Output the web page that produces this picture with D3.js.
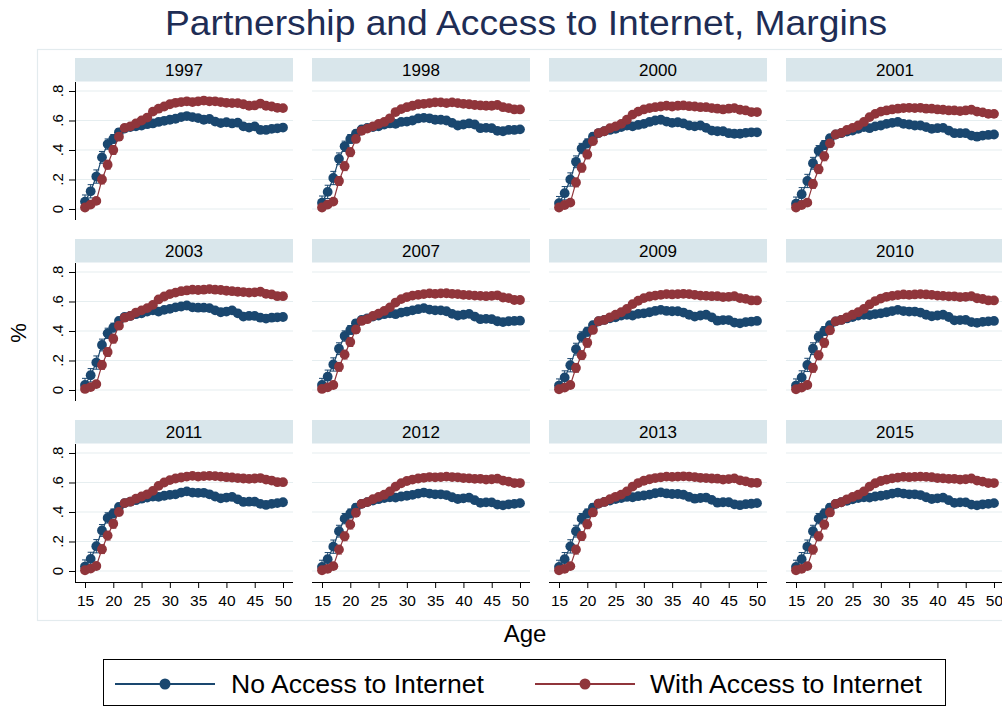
<!DOCTYPE html>
<html>
<head>
<meta charset="utf-8">
<script src="https://cdn.jsdelivr.net/npm/d3@7"></script>
<style>
  html, body { margin: 0; padding: 0; background: #fff; }
  svg { display: block; font-family: "Liberation Sans", Arial, Helvetica, sans-serif; }
</style>
</head>
<body>
<svg id="chart" width="1002" height="707"></svg>
<script>
// Ages on the x axis
const ages = [15,16,17,18,19,20,21,22,23,24,25,26,27,28,29,30,31,32,33,34,35,36,37,38,39,40,41,42,43,44,45,46,47,48,49,50];
const years = ["1997","1998","2000","2001","2003","2007","2009","2010","2011","2012","2013","2015"];
const xTicks = [15,20,25,30,35,40,45,50];
const yTicks = [0, 0.2, 0.4, 0.6, 0.8];
const yTickLabels = ["0", ".2", ".4", ".6", ".8"];
const seriesNames = ["No Access to Internet", "With Access to Internet"];

// Predicted share with a partner, by age: no internet access at home
const no1997 = [0.05,0.12,0.22,0.35,0.44,0.475,0.52,0.545,0.555,0.56,0.566,0.575,0.58,0.59,0.598,0.605,0.612,0.623,0.63,0.623,0.616,0.605,0.61,0.593,0.582,0.588,0.58,0.585,0.56,0.552,0.56,0.536,0.536,0.543,0.547,0.552];
const no1998 = [0.043,0.116,0.21,0.34,0.425,0.475,0.51,0.54,0.55,0.555,0.56,0.573,0.58,0.577,0.59,0.593,0.60,0.614,0.618,0.615,0.605,0.605,0.60,0.584,0.566,0.573,0.58,0.573,0.548,0.55,0.548,0.53,0.527,0.536,0.536,0.54];
const no2000 = [0.04,0.107,0.20,0.32,0.41,0.445,0.49,0.515,0.527,0.536,0.543,0.555,0.566,0.56,0.57,0.577,0.59,0.60,0.605,0.593,0.584,0.588,0.58,0.566,0.56,0.566,0.55,0.532,0.527,0.527,0.514,0.51,0.51,0.516,0.52,0.52];
const no2001 = [0.036,0.10,0.19,0.31,0.395,0.434,0.48,0.505,0.514,0.525,0.532,0.543,0.555,0.548,0.56,0.566,0.577,0.584,0.59,0.577,0.573,0.566,0.566,0.555,0.543,0.548,0.55,0.532,0.514,0.514,0.514,0.498,0.49,0.498,0.502,0.505];
const no2003 = [0.034,0.10,0.186,0.305,0.384,0.423,0.468,0.495,0.502,0.514,0.52,0.532,0.54,0.532,0.543,0.55,0.56,0.566,0.573,0.56,0.558,0.558,0.555,0.54,0.527,0.532,0.54,0.52,0.498,0.502,0.502,0.49,0.484,0.49,0.493,0.495];
const no2007 = [0.034,0.09,0.173,0.28,0.366,0.407,0.452,0.475,0.486,0.498,0.505,0.514,0.52,0.514,0.525,0.532,0.54,0.548,0.555,0.545,0.54,0.54,0.534,0.516,0.505,0.51,0.516,0.498,0.48,0.482,0.48,0.466,0.46,0.466,0.468,0.47];
const no2009 = [0.03,0.085,0.168,0.277,0.36,0.395,0.44,0.466,0.475,0.486,0.493,0.505,0.51,0.505,0.516,0.52,0.527,0.536,0.543,0.536,0.534,0.534,0.525,0.51,0.498,0.505,0.51,0.493,0.47,0.474,0.474,0.457,0.452,0.46,0.464,0.468];
const no2010 = [0.03,0.085,0.17,0.28,0.36,0.40,0.44,0.465,0.475,0.485,0.495,0.505,0.51,0.508,0.515,0.52,0.527,0.535,0.543,0.535,0.532,0.532,0.525,0.51,0.50,0.505,0.51,0.495,0.472,0.474,0.475,0.46,0.455,0.462,0.465,0.468];
const no2011 = [0.03,0.082,0.168,0.275,0.36,0.39,0.434,0.46,0.47,0.48,0.49,0.498,0.505,0.503,0.51,0.516,0.52,0.532,0.54,0.532,0.53,0.53,0.52,0.505,0.493,0.498,0.502,0.486,0.468,0.47,0.47,0.455,0.448,0.455,0.46,0.466];
const no2012 = [0.028,0.08,0.165,0.27,0.355,0.39,0.43,0.455,0.467,0.477,0.487,0.495,0.50,0.498,0.505,0.51,0.516,0.525,0.532,0.525,0.52,0.52,0.515,0.50,0.488,0.493,0.497,0.48,0.462,0.465,0.465,0.45,0.445,0.452,0.455,0.46];
const no2013 = [0.028,0.08,0.167,0.27,0.355,0.39,0.43,0.457,0.468,0.478,0.488,0.495,0.502,0.50,0.507,0.512,0.518,0.527,0.533,0.526,0.522,0.522,0.517,0.502,0.49,0.495,0.498,0.482,0.463,0.466,0.466,0.452,0.446,0.453,0.456,0.46];
const no2015 = [0.028,0.08,0.165,0.27,0.355,0.39,0.43,0.455,0.466,0.476,0.486,0.494,0.50,0.498,0.505,0.51,0.516,0.525,0.532,0.525,0.52,0.52,0.515,0.50,0.488,0.493,0.497,0.48,0.462,0.465,0.465,0.45,0.445,0.452,0.455,0.46];

// Predicted share with a partner, by age: with internet access at home
const with1997 = [0.01,0.03,0.055,0.2,0.3,0.4,0.49,0.55,0.56,0.58,0.6,0.62,0.66,0.68,0.695,0.71,0.72,0.725,0.73,0.725,0.73,0.735,0.73,0.73,0.725,0.72,0.718,0.718,0.71,0.70,0.702,0.715,0.70,0.695,0.686,0.684];
const with1998 = [0.01,0.03,0.05,0.19,0.29,0.385,0.475,0.53,0.545,0.56,0.577,0.59,0.615,0.657,0.677,0.69,0.70,0.71,0.713,0.718,0.723,0.723,0.718,0.723,0.718,0.713,0.71,0.705,0.702,0.70,0.70,0.705,0.69,0.684,0.675,0.675];
const with2000 = [0.01,0.027,0.043,0.18,0.28,0.37,0.46,0.515,0.527,0.548,0.56,0.577,0.605,0.64,0.66,0.675,0.684,0.69,0.695,0.70,0.695,0.70,0.702,0.697,0.695,0.69,0.69,0.684,0.68,0.675,0.68,0.684,0.673,0.668,0.657,0.657];
const with2001 = [0.01,0.027,0.043,0.17,0.27,0.357,0.445,0.505,0.516,0.536,0.55,0.566,0.59,0.623,0.645,0.66,0.668,0.675,0.68,0.684,0.686,0.684,0.686,0.68,0.68,0.675,0.673,0.668,0.668,0.664,0.668,0.673,0.66,0.655,0.645,0.645];
const with2003 = [0.007,0.02,0.04,0.17,0.257,0.348,0.436,0.49,0.502,0.525,0.54,0.555,0.577,0.614,0.634,0.65,0.66,0.67,0.675,0.68,0.678,0.68,0.684,0.68,0.678,0.673,0.67,0.666,0.664,0.66,0.662,0.666,0.652,0.648,0.636,0.636];
const with2007 = [0.007,0.018,0.034,0.157,0.24,0.325,0.41,0.468,0.48,0.502,0.518,0.536,0.56,0.593,0.616,0.63,0.64,0.645,0.65,0.655,0.652,0.655,0.656,0.652,0.65,0.645,0.643,0.64,0.638,0.636,0.638,0.642,0.627,0.623,0.61,0.61];
const with2009 = [0.005,0.016,0.034,0.15,0.236,0.32,0.407,0.466,0.475,0.493,0.51,0.527,0.55,0.582,0.605,0.623,0.634,0.64,0.645,0.65,0.648,0.65,0.652,0.65,0.645,0.64,0.638,0.636,0.636,0.63,0.632,0.636,0.623,0.618,0.607,0.607];
const with2010 = [0.005,0.016,0.034,0.15,0.235,0.32,0.405,0.465,0.475,0.493,0.51,0.527,0.55,0.58,0.603,0.62,0.632,0.638,0.643,0.648,0.645,0.648,0.65,0.648,0.645,0.64,0.638,0.635,0.635,0.63,0.632,0.636,0.622,0.617,0.607,0.607];
const with2011 = [0.005,0.016,0.034,0.148,0.24,0.32,0.40,0.46,0.47,0.49,0.505,0.52,0.543,0.577,0.60,0.616,0.627,0.634,0.64,0.645,0.64,0.643,0.645,0.643,0.64,0.636,0.634,0.63,0.627,0.625,0.627,0.63,0.62,0.613,0.602,0.602];
const with2012 = [0.005,0.015,0.033,0.145,0.235,0.315,0.395,0.455,0.467,0.487,0.502,0.517,0.54,0.572,0.595,0.61,0.62,0.627,0.632,0.637,0.635,0.637,0.64,0.637,0.635,0.63,0.628,0.625,0.625,0.62,0.622,0.626,0.613,0.606,0.596,0.596];
const with2013 = [0.005,0.015,0.033,0.145,0.237,0.317,0.397,0.457,0.468,0.487,0.503,0.518,0.54,0.572,0.596,0.612,0.622,0.63,0.635,0.64,0.638,0.64,0.642,0.64,0.637,0.632,0.63,0.627,0.626,0.62,0.623,0.628,0.615,0.608,0.598,0.598];
const with2015 = [0.005,0.015,0.033,0.145,0.235,0.315,0.397,0.455,0.466,0.486,0.502,0.517,0.54,0.572,0.595,0.61,0.62,0.628,0.633,0.638,0.636,0.638,0.64,0.638,0.636,0.63,0.628,0.625,0.625,0.62,0.622,0.627,0.613,0.606,0.596,0.596];

// Half-width of the 95% confidence interval, by age
const ciNo   = [0.045,0.045,0.045,0.04,0.035,0.03,0.025,0.02,0.018,0.016,0.015,0.015,0.015,0.015,0.015,0.015,0.015,0.015,0.015,0.015,0.015,0.015,0.015,0.015,0.015,0.015,0.015,0.015,0.015,0.015,0.015,0.015,0.015,0.015,0.015,0.015];
const ciWith = [0.012,0.015,0.02,0.03,0.03,0.03,0.025,0.02,0.016,0.014,0.013,0.012,0.012,0.012,0.012,0.012,0.012,0.012,0.012,0.012,0.012,0.012,0.012,0.012,0.012,0.012,0.012,0.012,0.012,0.012,0.012,0.012,0.012,0.012,0.012,0.012,0.012];

const noSeries = [no1997,no1998,no2000,no2001,no2003,no2007,no2009,no2010,no2011,no2012,no2013,no2015];
const withSeries = [with1997,with1998,with2000,with2001,with2003,with2007,with2009,with2010,with2011,with2012,with2013,with2015];

const colors = ["#1a476f", "#90353b"];
const gridColor = "#e6eef0";
const stripColor = "#d9e6eb";

const svg = d3.select("#chart");
svg.append("rect").attr("width", 1002).attr("height", 707).attr("fill", "#fff");

// Title
svg.append("text")
  .attr("x", 526).attr("y", 35)
  .attr("text-anchor", "middle")
  .attr("font-size", 35)
  .attr("fill", "#1e2d55")
  .attr("textLength", 722).attr("lengthAdjust", "spacingAndGlyphs")
  .text("Partnership and Access to Internet, Margins");

// Plot region frame
svg.append("rect")
  .attr("x", 37.5).attr("y", 49.5).attr("width", 980).attr("height", 571)
  .attr("fill", "none").attr("stroke", "#e3ebee").attr("stroke-width", 1.2);

// Panel geometry
const colX = [75, 312, 549, 786];
const rowY = [58, 239, 420];
const panelW = 218, stripH = 23.5, plotH = 138;

const x = d3.scaleLinear().domain([13.232, 51.768]).range([0, panelW]);
const y = d3.scaleLinear().domain([-0.0746, 0.861]).range([plotH, 0]);

const line = d3.line().x((d, i) => x(ages[i])).y(d => y(d));

years.forEach((yr, p) => {
  const col = p % 4, row = Math.floor(p / 4);
  const g = svg.append("g").attr("transform", `translate(${colX[col]},${rowY[row]})`);

  // Strip with year
  g.append("rect").attr("x", 0).attr("y", 0).attr("width", panelW).attr("height", stripH).attr("fill", stripColor);
  g.append("text")
    .attr("x", panelW / 2).attr("y", stripH / 2 + 6)
    .attr("text-anchor", "middle").attr("font-size", 17).attr("fill", "#000")
    .text(yr);

  const plot = g.append("g").attr("transform", `translate(0,${stripH + 0.5})`);

  // Gridlines
  plot.selectAll("line.grid").data(yTicks).enter().append("line")
    .attr("x1", 0).attr("x2", panelW)
    .attr("y1", d => y(d)).attr("y2", d => y(d))
    .attr("stroke", gridColor).attr("stroke-width", 1.2);

  // Left axis on the first column
  if (col === 0) {
    const ya = plot.append("g").call(d3.axisLeft(y).tickValues(yTicks).tickSize(6).tickFormat(""));
    ya.select(".domain").attr("stroke", "#000").attr("d", `M0.5,0V${plotH}`);
    ya.selectAll(".tick line").attr("stroke", "#000");
    yTicks.forEach((t, i) => {
      plot.append("text")
        .attr("transform", `translate(-12,${y(t)}) rotate(-90)`)
        .attr("text-anchor", "middle").attr("font-size", 15).attr("fill", "#000")
        .text(yTickLabels[i]);
    });
  }

  // Bottom axis on the last row
  if (row === 2) {
    const xa = plot.append("g").attr("transform", `translate(0,${plotH})`)
      .call(d3.axisBottom(x).tickValues(xTicks).tickSize(6).tickFormat(d3.format("d")));
    xa.select(".domain").attr("stroke", "#000").attr("d", `M0,0.5H${panelW}`);
    xa.selectAll(".tick line").attr("stroke", "#000");
    xa.selectAll(".tick text").attr("font-size", 15.5).attr("fill", "#000")
      .attr("font-family", "Liberation Sans, Arial, sans-serif").attr("dy", "0.95em");
  }

  // Series: confidence caps, connecting line, markers
  [[noSeries[p], ciNo], [withSeries[p], ciWith]].forEach(([vals, ci], s) => {
    const sg = plot.append("g");
    const c = colors[s];
    const caps = sg.selectAll("g.ci").data(vals).enter().append("g");
    caps.append("line")
      .attr("x1", (d, i) => x(ages[i])).attr("x2", (d, i) => x(ages[i]))
      .attr("y1", (d, i) => y(d - ci[i])).attr("y2", (d, i) => y(d + ci[i]))
      .attr("stroke", c).attr("stroke-width", 1);
    [-1, 1].forEach(sign => {
      caps.append("line")
        .attr("x1", (d, i) => x(ages[i]) - 3).attr("x2", (d, i) => x(ages[i]) + 3)
        .attr("y1", (d, i) => y(d + sign * ci[i])).attr("y2", (d, i) => y(d + sign * ci[i]))
        .attr("stroke", c).attr("stroke-width", 1);
    });
    sg.append("path").datum(vals).attr("d", line)
      .attr("fill", "none").attr("stroke", c).attr("stroke-width", 1.2);
    sg.selectAll("circle").data(vals).enter().append("circle")
      .attr("cx", (d, i) => x(ages[i])).attr("cy", d => y(d))
      .attr("r", 4.9).attr("fill", c);
  });
});

// Axis titles
svg.append("text")
  .attr("transform", "translate(26,333) rotate(-90)")
  .attr("text-anchor", "middle").attr("font-size", 22).attr("fill", "#000")
  .text("%");
svg.append("text")
  .attr("x", 525).attr("y", 642)
  .attr("text-anchor", "middle").attr("font-size", 24).attr("fill", "#000")
  .text("Age");

// Legend
const lg = svg.append("g");
lg.append("rect").attr("x", 103.5).attr("y", 659.5).attr("width", 842).attr("height", 46)
  .attr("fill", "#fff").attr("stroke", "#000").attr("stroke-width", 1);
const legendItems = [{x0: 115, tx: 231, tw: 253}, {x0: 535, tx: 650, tw: 272}];
legendItems.forEach((it, s) => {
  lg.append("line").attr("x1", it.x0).attr("x2", it.x0 + 100).attr("y1", 684).attr("y2", 684)
    .attr("stroke", colors[s]).attr("stroke-width", 2);
  lg.append("circle").attr("cx", it.x0 + 50).attr("cy", 684).attr("r", 5.5).attr("fill", colors[s]);
  lg.append("text").attr("x", it.tx).attr("y", 693)
    .attr("font-size", 26).attr("fill", "#000")
    .attr("textLength", it.tw).attr("lengthAdjust", "spacingAndGlyphs")
    .text(seriesNames[s]);
});
</script>
</body>
</html>
